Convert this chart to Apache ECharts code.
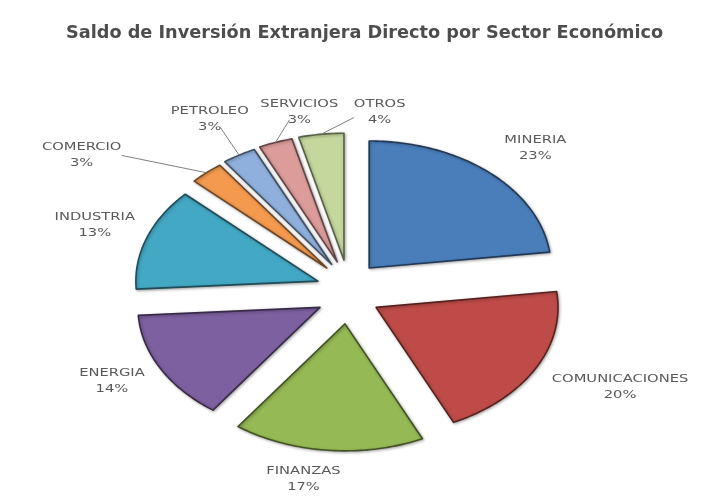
<!DOCTYPE html>
<html>
<head>
<meta charset="utf-8">
<script src="https://cdn.jsdelivr.net/npm/echarts@6/dist/echarts.min.js"></script>
<style>
  html, body { margin: 0; padding: 0; background: #ffffff; }
  #chart { width: 714px; height: 497px; }
</style>
</head>
<body>
<div id="chart"></div>
<script>
// Saldo de IED por sector (% del total)
const sectors = ['MINERIA', 'COMUNICACIONES', 'FINANZAS', 'ENERGIA', 'INDUSTRIA', 'COMERCIO', 'PETROLEO', 'SERVICIOS', 'OTROS'];
const shares = [23, 20, 17, 14, 13, 3, 3, 3, 4];

// slice fills
const sliceColors = ['#4a7ebb', '#be4b48', '#95b954', '#7d60a0', '#43a8c4', '#f39a4f', '#8fb0dc', '#dc9c9a', '#c4d79d'];
// fine placement of each label around the ellipse
const labelNudge = [[22, -5], [53, 6], [-21, 3], [-17, 0], [-18, -4], [-101, 2], [-11, -13], [36, -6], [63, 4]];

// elliptical, exploded pie geometry
const CX = 348, CY = 292, RX = 182, RY = 127, EXPLODE = 32;
const LRX = 250, LRY = 185;
const LABEL_FONT = '10.5px "DejaVu Sans"';
const LABEL_STRETCH = 1.4;

const total = shares.reduce((a, b) => a + b, 0);
const starts = [];
shares.reduce((acc, v) => { starts.push(acc); return acc + v; }, 0);

// darker tone of a fill for the slice rims
function darken(hex, f) {
  const c = echarts.color.parse(hex);
  return 'rgb(' + [0, 1, 2].map(k => Math.round(c[k] * f)).join(',') + ')';
}

function renderSlice(params, api) {
  const i = params.dataIndex;
  const v = api.value(0);
  const a0 = starts[i] / total * Math.PI * 2;
  const a1 = (starts[i] + v) / total * Math.PI * 2;
  const am = (a0 + a1) / 2;
  const ox = CX + EXPLODE * Math.sin(am);
  const oy = CY - EXPLODE * Math.cos(am);

  const pts = [[ox, oy]];
  const n = Math.max(4, Math.ceil((a1 - a0) / 0.02));
  for (let k = 0; k <= n; k++) {
    const a = a0 + (a1 - a0) * k / n;
    pts.push([ox + RX * Math.sin(a), oy - RY * Math.cos(a)]);
  }

  const color = sliceColors[i];
  const children = [{
    type: 'polygon',
    shape: { points: pts },
    style: {
      fill: color,
      stroke: darken(color, 0.45),
      lineWidth: 1.6,
      lineJoin: 'round',
      shadowBlur: 3,
      shadowOffsetX: 1,
      shadowOffsetY: 1,
      shadowColor: 'rgba(0,0,0,0.3)'
    }
  }];

  const lx = CX + LRX * Math.sin(am) + labelNudge[i][0];
  const ly = CY - LRY * Math.cos(am) + labelNudge[i][1];
  children.push({
    type: 'text',
    x: lx, y: ly,
    scaleX: LABEL_STRETCH,
    style: {
      text: sectors[i] + '\n' + v + '%',
      x: 0, y: 0,
      align: 'center',
      verticalAlign: 'middle',
      lineHeight: 16,
      font: LABEL_FONT,
      fill: '#5a5a5a'
    },
    z2: 10
  });

  // leader lines for the thin slices
  if (v < 5) {
    const rx = ox + RX * Math.sin(am);
    const ry = oy - RY * Math.cos(am);
    const hw = sectors[i].length * 9.5 / 2 + 2;
    const hh = 16;
    const cy = ly - 8;
    const dx = rx - lx, dy = ry - cy;
    const t = Math.min(hw / Math.abs(dx || 1e-6), hh / Math.abs(dy || 1e-6));
    children.push({
      type: 'polyline',
      shape: { points: [[rx, ry], [lx + dx * t, cy + dy * t]] },
      style: { stroke: '#7f7f7f', lineWidth: 1, fill: null }
    });
  }

  return { type: 'group', children };
}

const chart = echarts.init(document.getElementById('chart'), null, { renderer: 'canvas' });
chart.setOption({
  backgroundColor: '#ffffff',
  animation: false,
  title: {
    text: 'Saldo de Inversión Extranjera Directo por Sector Económico',
    left: 61,
    top: 19,
    textStyle: {
      fontFamily: 'DejaVu Sans',
      fontSize: 17.7,
      fontWeight: 'bold',
      color: '#4d4d4d'
    }
  },
  series: [{
    type: 'custom',
    coordinateSystem: 'none',
    renderItem: renderSlice,
    data: shares.map(v => [v])
  }]
});
</script>
</body>
</html>
